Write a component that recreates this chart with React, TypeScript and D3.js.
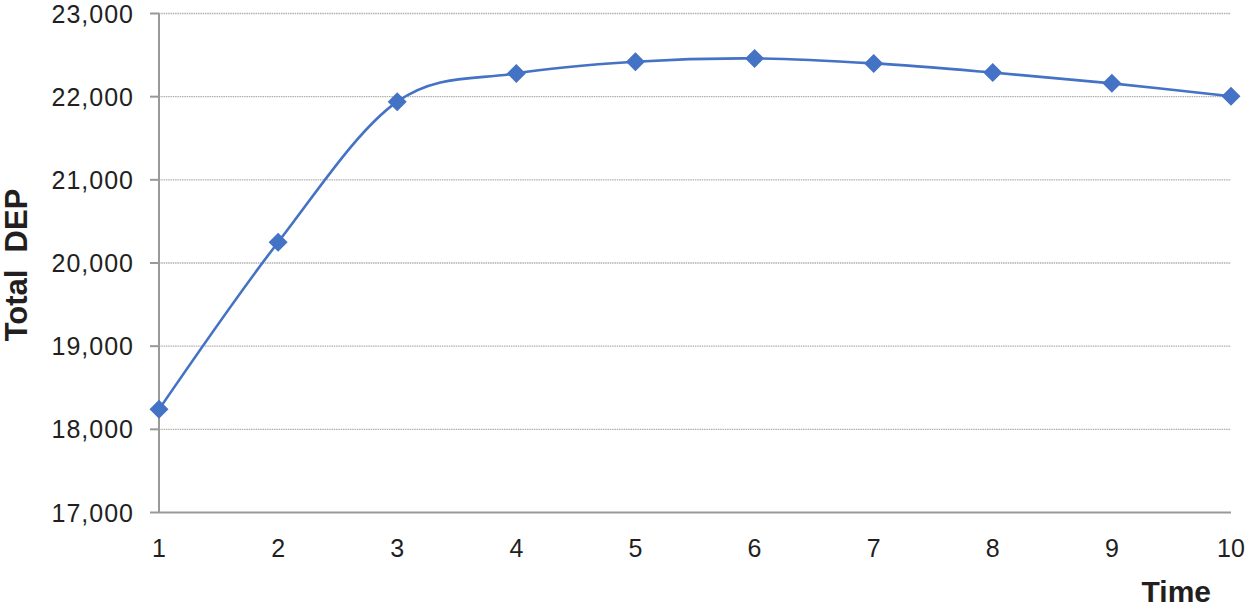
import React from "react";
import * as d3 from "d3";

const times = [1, 2, 3, 4, 5, 6, 7, 8, 9, 10];
const totalDEP = [18240, 20250, 21940, 22280, 22420, 22460, 22400, 22290, 22160, 22005];
const yTicks = [17000, 18000, 19000, 20000, 21000, 22000, 23000];

const W = 1250;
const H = 609;
const left = 159;
const right = 1231;
const top = 13.5;
const bottom = 512.5;
const blue = "#4472C4";
const font = "'Liberation Sans', Arial, Helvetica, sans-serif";

export default function App() {
  const x = d3.scaleLinear().domain([1, 10]).range([left, right]);
  const y = d3.scaleLinear().domain([17000, 23000]).range([bottom, top]);
  const pts = times.map((t, i) => [x(t), y(totalDEP[i])] as [number, number]);
  const line = d3.line().curve(d3.curveCardinal.tension(0))(pts) || "";
  const diamond = (cx: number, cy: number) => {
    const r = 9.5;
    return `M${cx},${cy - r}L${cx + r},${cy}L${cx},${cy + r}L${cx - r},${cy}Z`;
  };
  return (
    <svg width={W} height={H} style={{ position: "absolute", left: 0, top: 0, background: "#fff" }}>
      {yTicks.slice(1).map((v) => (
        <line key={"g" + v} x1={left} x2={right} y1={y(v)} y2={y(v)} stroke="#b0b0b0" strokeWidth={1.3} strokeDasharray="1.5,0.8" />
      ))}
      {yTicks.map((v) => (
        <line key={"t" + v} x1={150} x2={left} y1={y(v)} y2={y(v)} stroke="#999" strokeWidth={2} />
      ))}
      <line x1={left} x2={left} y1={top} y2={bottom} stroke="#999" strokeWidth={2} />
      <line x1={left} x2={right} y1={bottom} y2={bottom} stroke="#999" strokeWidth={2} />
      {yTicks.map((v) => (
        <text key={"l" + v} x={134} y={y(v)} dy="0.36em" textAnchor="end" fontFamily={font} fontSize={25} letterSpacing={1} fill="#231f20">
          {d3.format(",")(v)}
        </text>
      ))}
      {times.map((t) => (
        <text key={"x" + t} x={x(t)} y={557} textAnchor="middle" fontFamily={font} fontSize={25} fill="#231f20">
          {t}
        </text>
      ))}
      <path d={line} fill="none" stroke={blue} strokeWidth={2.6} />
      {pts.map(([cx, cy], i) => (
        <path key={"m" + i} d={diamond(cx, cy)} fill={blue} />
      ))}
      <text x={1211} y={602} textAnchor="end" fontFamily={font} fontSize={30} fontWeight="bold" fill="#231f20">
        Time
      </text>
      <text transform="translate(27,265) rotate(-90)" textAnchor="middle" fontFamily={font} fontSize={31} fontWeight="bold" fill="#231f20" style={{ whiteSpace: "pre" }}>
        {"Total  DEP"}
      </text>
    </svg>
  );
}
